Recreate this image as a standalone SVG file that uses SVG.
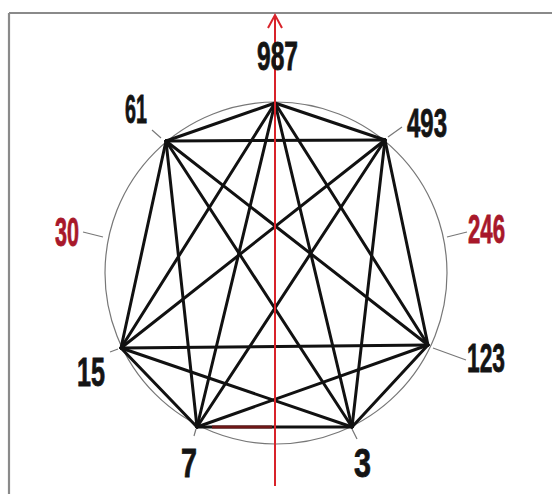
<svg xmlns="http://www.w3.org/2000/svg" width="552" height="494" viewBox="0 0 552 494">
<style>
.lbl{font-family:"Liberation Sans",Arial,sans-serif;font-weight:bold;font-size:40px;fill:#141414;stroke:#141414;stroke-width:0.8}
.red{fill:#a8182a;stroke:#a8182a}
.tick{stroke:#777;stroke-width:1.2;fill:none}
.edge{stroke:#111;stroke-width:3;stroke-linecap:round}
.ring{stroke:#777;stroke-width:1.2;fill:none}
</style>
<rect x="0" y="0" width="552" height="494" fill="#fff"/>
<g id="frame" stroke="#8a8a8a" stroke-width="2.2" fill="none">
<line x1="9" y1="13" x2="552" y2="13"/>
<line x1="9" y1="13" x2="9" y2="494"/>
</g>
<circle id="circle" class="ring" cx="276" cy="273" r="171"/>
<g id="connectors">
<line class="edge" x1="275" y1="103" x2="385" y2="140"/>
<line class="edge" x1="275" y1="103" x2="428" y2="345"/>
<line class="edge" x1="275" y1="103" x2="352" y2="427"/>
<line class="edge" x1="275" y1="103" x2="197" y2="427"/>
<line class="edge" x1="275" y1="103" x2="121" y2="348"/>
<line class="edge" x1="275" y1="103" x2="166" y2="141"/>
<line class="edge" x1="385" y1="140" x2="428" y2="345"/>
<line class="edge" x1="385" y1="140" x2="352" y2="427"/>
<line class="edge" x1="385" y1="140" x2="197" y2="427"/>
<line class="edge" x1="385" y1="140" x2="121" y2="348"/>
<line class="edge" x1="385" y1="140" x2="166" y2="141"/>
<line class="edge" x1="428" y1="345" x2="352" y2="427"/>
<line class="edge" x1="428" y1="345" x2="197" y2="427"/>
<line class="edge" x1="428" y1="345" x2="121" y2="348"/>
<line class="edge" x1="428" y1="345" x2="166" y2="141"/>
<line class="edge" x1="352" y1="427" x2="197" y2="427"/>
<line class="edge" x1="352" y1="427" x2="121" y2="348"/>
<line class="edge" x1="352" y1="427" x2="166" y2="141"/>
<line class="edge" x1="197" y1="427" x2="121" y2="348"/>
<line class="edge" x1="197" y1="427" x2="166" y2="141"/>
<line class="edge" x1="121" y1="348" x2="166" y2="141"/>
<line x1="212" y1="427" x2="272" y2="427" stroke="#6e1616" stroke-width="3"/>
<g id="axis" stroke="#d8232a" stroke-width="2" fill="none">
<line x1="275" y1="486" x2="275" y2="15"/>
<polyline points="268,28 275,15 282,28"/>
</g>
</g>
<g id="n987"><text class="lbl" x="257" y="70" textLength="41" lengthAdjust="spacingAndGlyphs">987</text></g>
<g id="n493"><line class="tick" x1="388" y1="137" x2="402" y2="127"/><text class="lbl" x="407" y="137" textLength="40" lengthAdjust="spacingAndGlyphs">493</text></g>
<g id="n246"><line class="tick" x1="447" y1="237" x2="467" y2="232"/><text class="lbl red" x="468" y="243" textLength="37" lengthAdjust="spacingAndGlyphs">246</text></g>
<g id="n123"><line class="tick" x1="433" y1="348" x2="466" y2="360"/><text class="lbl" x="467" y="372" textLength="38" lengthAdjust="spacingAndGlyphs">123</text></g>
<g id="n3"><line class="tick" x1="352" y1="429" x2="357" y2="439"/><text class="lbl" x="354" y="477" textLength="17" lengthAdjust="spacingAndGlyphs">3</text></g>
<g id="n7"><line class="tick" x1="196" y1="429" x2="194" y2="436"/><text class="lbl" x="181" y="477" textLength="16" lengthAdjust="spacingAndGlyphs">7</text></g>
<g id="n15"><line class="tick" x1="110" y1="352" x2="118" y2="349"/><text class="lbl" x="77" y="386" textLength="28" lengthAdjust="spacingAndGlyphs">15</text></g>
<g id="n30"><line class="tick" x1="83" y1="232" x2="103" y2="237"/><text class="lbl red" x="55" y="246" textLength="24" lengthAdjust="spacingAndGlyphs">30</text></g>
<g id="n61"><line class="tick" x1="152" y1="130" x2="161" y2="138"/><text class="lbl" x="125" y="123" textLength="22" lengthAdjust="spacingAndGlyphs">61</text></g>
</svg>
